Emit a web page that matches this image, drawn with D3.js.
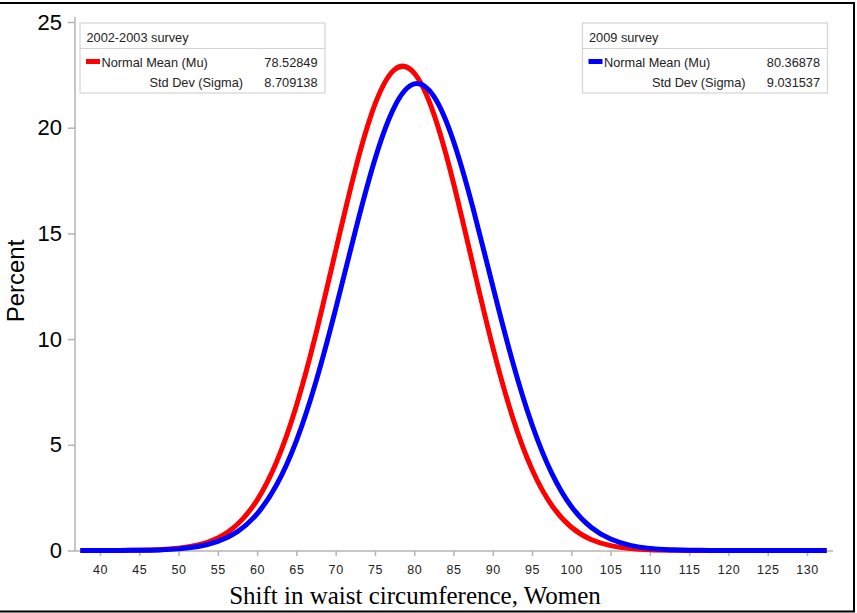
<!DOCTYPE html>
<html>
<head>
<meta charset="utf-8">
<script src="https://cdn.jsdelivr.net/npm/d3@7"></script>
<style>
  body { margin: 0; background: #fff; }
  svg { display: block; }
</style>
</head>
<body>
<div id="chart"></div>
<script>
// values (percent per 5-unit bin)
var shiftX = [37.5, 40, 42.5, 45, 47.5, 50, 52.5, 55, 57.5, 60, 62.5, 65, 67.5, 70, 72.5, 75, 77.5,
  80, 82.5, 85, 87.5, 90, 92.5, 95, 97.5, 100, 102.5, 105, 107.5, 110, 112.5, 115, 117.5, 120,
  122.5, 125, 127.5, 130, 132.5];
var pct2002 = [0, 0.001, 0.004, 0.014, 0.04, 0.107, 0.263, 0.596, 1.242, 2.384, 4.21, 6.85, 10.27, 14.18, 18.02, 21.1, 22.75,
  22.58, 20.64, 17.38, 13.47, 9.62, 6.33, 3.83, 2.14, 1.1, 0.52, 0.23, 0.09, 0.03, 0.011, 0.004, 0.001, 0,
  0, 0, 0, 0, 0];
var pct2009 = [0, 0.001, 0.003, 0.01, 0.029, 0.077, 0.189, 0.427, 0.895, 1.737, 3.12, 5.19, 8.0, 11.43, 15.11, 18.51, 21.0,
  22.07, 21.48, 19.36, 16.17, 12.51, 8.96, 5.95, 3.66, 2.08, 1.1, 0.54, 0.24, 0.1, 0.04, 0.014, 0.005, 0.001,
  0, 0, 0, 0, 0];
var xTicks = [40, 45, 50, 55, 60, 65, 70, 75, 80, 85, 90, 95, 100, 105, 110, 115, 120, 125, 130];
var yTicks = [0, 5, 10, 15, 20, 25];
var legends = [
  { title: "2002-2003 survey", color: "#ff0000", mu: "78.52849", sigma: "8.709138" },
  { title: "2009 survey", color: "#0000ff", mu: "80.36878", sigma: "9.031537" }
];

var W = 857, H = 613;
var svg = d3.select("#chart").append("svg").attr("width", W).attr("height", H);

// frame
svg.append("line").attr("x1", 0).attr("x2", 855).attr("y1", 3).attr("y2", 3).attr("stroke", "#000").attr("stroke-width", 2);
svg.append("line").attr("x1", 854).attr("x2", 854).attr("y1", 3).attr("y2", 612).attr("stroke", "#000").attr("stroke-width", 2);
svg.append("line").attr("x1", 0).attr("x2", 855).attr("y1", 611.5).attr("y2", 611.5).attr("stroke", "#000").attr("stroke-width", 2);

var x = d3.scaleLinear().domain([37.2, 132.9]).range([78, 829.8]);
var y = d3.scaleLinear().domain([0, 25]).range([550.5, 22]);

// axes
var axisColor = "#b4b4b4";
var gx = svg.append("g").attr("transform", "translate(0,551)")
  .call(d3.axisBottom(x).tickValues(xTicks).tickSize(5).tickSizeOuter(0));
gx.select(".domain").remove();
gx.append("line").attr("x1", 75).attr("x2", 833).attr("stroke", axisColor).attr("stroke-width", 1.5);
gx.selectAll(".tick line").attr("stroke", axisColor).attr("stroke-width", 1.5);
gx.selectAll(".tick text").attr("y", 14).attr("dy", "0.71em")
  .attr("fill", "#222").style("font-family", "Liberation Sans, Arial, sans-serif")
  .style("font-size", "12.5px").style("letter-spacing", "0.6px");

var gy = svg.append("g").attr("transform", "translate(75,0)")
  .call(d3.axisLeft(y).tickValues(yTicks).tickSize(7).tickSizeOuter(0));
gy.select(".domain").remove();
gy.append("line").attr("y1", 17).attr("y2", 551).attr("stroke", axisColor).attr("stroke-width", 1.5);
gy.selectAll(".tick line").attr("stroke", axisColor).attr("stroke-width", 1.5);
gy.selectAll(".tick text").attr("x", -13).attr("fill", "#000")
  .style("font-family", "Liberation Sans, Arial, sans-serif").style("font-size", "22px");

// axis titles
svg.append("text").attr("transform", "translate(24,281) rotate(-90)")
  .attr("text-anchor", "middle").style("font-family", "Liberation Sans, Arial, sans-serif")
  .style("font-size", "24px").text("Percent");
svg.append("text").attr("x", 415).attr("y", 604).attr("text-anchor", "middle")
  .style("font-family", "Liberation Serif, Times New Roman, serif").style("font-size", "25px")
  .text("Shift in waist circumference, Women");

// curves
var line = d3.line().x(d => x(d[0])).y(d => y(d[1])).curve(d3.curveNatural);
[pct2002, pct2009].forEach((vals, i) => {
  svg.append("path")
    .datum(shiftX.map((v, j) => [v, vals[j]]))
    .attr("d", line)
    .attr("fill", "none")
    .attr("stroke", legends[i].color)
    .attr("stroke-width", 5);
});

// legend boxes
var boxX = [80, 582.5];
legends.forEach((lg, i) => {
  var g = svg.append("g").attr("transform", `translate(${boxX[i]},23)`)
    .style("font-family", "Liberation Sans, Arial, sans-serif").style("font-size", "12.75px");
  g.append("rect").attr("width", 245).attr("height", 70).attr("fill", "#fff")
    .attr("stroke", "#d4d4d4").attr("stroke-width", 1.2);
  g.append("line").attr("x1", 0).attr("x2", 245).attr("y1", 25.5).attr("y2", 25.5)
    .attr("stroke", "#d4d4d4").attr("stroke-width", 1.2);
  g.append("text").attr("x", 6.5).attr("y", 18.5).attr("fill", "#222").text(lg.title);
  g.append("rect").attr("x", 6).attr("y", 36).attr("width", 14).attr("height", 5).attr("fill", lg.color);
  g.append("text").attr("x", 21.5).attr("y", 44).attr("fill", "#222").text("Normal Mean (Mu)");
  g.append("text").attr("x", 163).attr("y", 63.5).attr("text-anchor", "end").attr("fill", "#222").text("Std Dev (Sigma)");
  g.append("text").attr("x", 237.5).attr("y", 44).attr("text-anchor", "end").attr("fill", "#222").text(lg.mu);
  g.append("text").attr("x", 237.5).attr("y", 63.5).attr("text-anchor", "end").attr("fill", "#222").text(lg.sigma);
});
</script>
</body>
</html>
